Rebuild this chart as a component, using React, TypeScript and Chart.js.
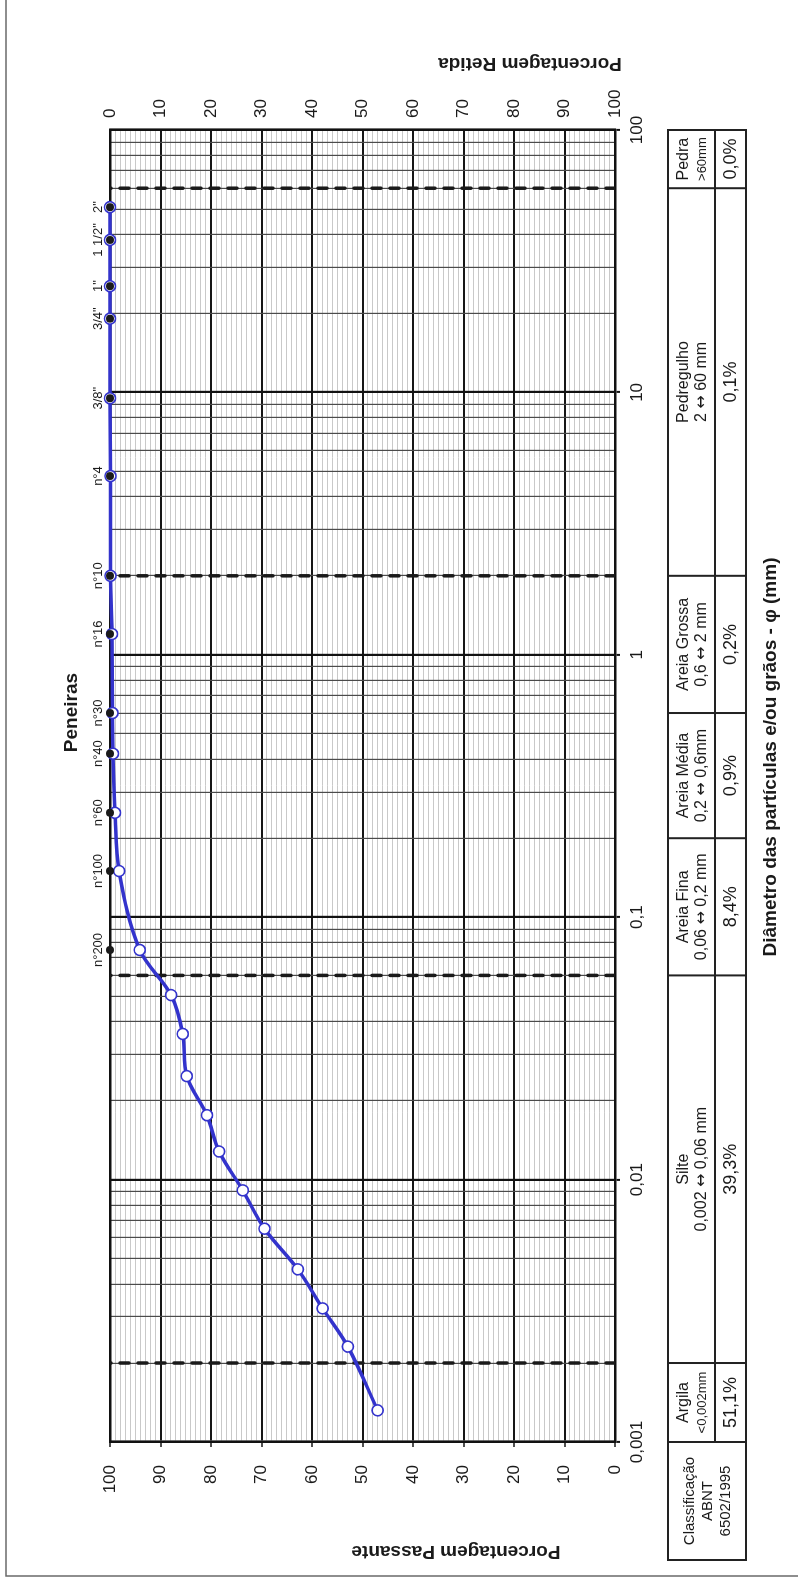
import React, { useEffect, useRef } from 'react';
import { Chart, registerables } from 'chart.js';

Chart.register(...registerables);

// ---------- data ----------
const SIEVE_NAMES = ['2"', '1 1/2"', '1"', '3/4"', '3/8"', 'n°4', 'n°10', 'n°16', 'n°30', 'n°40', 'n°60', 'n°100', 'n°200'];
const SIEVE_MM = [50.8, 38.1, 25.4, 19.1, 9.5, 4.8, 2.0, 1.2, 0.6, 0.42, 0.25, 0.15, 0.075];
const SIEVE_PASSING = [100, 100, 100, 100, 100, 99.9, 99.9, 99.6, 99.5, 99.4, 99.0, 98.2, 94.1];
const SIEVE_MARKER_PCT = 100;

const SED_MM = [0.0505, 0.0359, 0.0248, 0.0176, 0.0128, 0.0091, 0.0065, 0.00455, 0.00323, 0.00231, 0.00132];
const SED_PASSING = [87.9, 85.6, 84.8, 80.8, 78.4, 73.7, 69.4, 62.8, 57.9, 52.9, 47.0];

const CLASS_LIMITS = [0.001, 0.002, 0.06, 0.2, 0.6, 2, 60, 100];
const CLASS_NAMES = ['Argila', 'Silte', 'Areia Fina', 'Areia Média', 'Areia Grossa', 'Pedregulho', 'Pedra'];
const CLASS_RANGES = ['<0,002mm', '0,002 ↔ 0,06 mm', '0,06 ↔ 0,2 mm', '0,2 ↔ 0,6mm', '0,6 ↔ 2 mm', '2 ↔ 60 mm', '>60mm'];
const CLASS_PERCENT = ['51,1%', '39,3%', '8,4%', '0,9%', '0,2%', '0,1%', '0,0%'];
const CLASS_BOUNDARIES = [0.002, 0.06, 2, 60];

const DIAM_TICKS = [0.001, 0.01, 0.1, 1, 10, 100];
const DIAM_LABELS = ['0,001', '0,01', '0,1', '1', '10', '100'];
const PCT_TICKS = [0, 10, 20, 30, 40, 50, 60, 70, 80, 90, 100];

const TITLE_PASSANTE = 'Porcentagem Passante';
const TITLE_RETIDA = 'Porcentagem Retida';
const TITLE_SIEVES = 'Peneiras';
const TITLE_DIAM = 'Diâmetro das partículas e/ou grãos - φ (mm)';
const CLASS_HEADER = ['Classificação', 'ABNT', '6502/1995'];

// ---------- layout ----------
const W = 1582;
const H = 798;
const FONT = "'Liberation Sans', Arial, Helvetica, sans-serif";
const ARROW_FONT = "'DejaVu Sans', sans-serif";
const INK = '#1a1a1a';
const BLUE = 'rgb(51,51,204)';

const isDecade = (v: number) => DIAM_TICKS.some((d) => Math.abs(d - v) / d < 1e-6);
const isPctMajor = (v: number) => PCT_TICKS.some((p) => Math.abs(p - v) < 1e-6);

function text(ctx: CanvasRenderingContext2D, s: string, x: number, y: number, font: string,
  align: CanvasTextAlign = 'center', baseline: CanvasTextBaseline = 'middle', rot = 0) {
  ctx.save();
  ctx.translate(x, y);
  if (rot) ctx.rotate(rot);
  ctx.font = font;
  ctx.textAlign = align;
  ctx.textBaseline = baseline;
  ctx.fillStyle = INK;
  ctx.fillText(s, 0, 0);
  ctx.restore();
}

// centred text where the ↔ glyph comes from a font with a wide arrow
function textWithArrow(ctx: CanvasRenderingContext2D, s: string, cx: number, cy: number, size: number) {
  const parts = s.split('↔');
  const base = `${size}px ${FONT}`;
  const arrowFont = `${size}px ${ARROW_FONT}`;
  ctx.save();
  ctx.textBaseline = 'middle';
  ctx.textAlign = 'left';
  ctx.fillStyle = INK;
  ctx.font = arrowFont;
  const aw = ctx.measureText('↔').width;
  ctx.font = base;
  const widths = parts.map((p) => ctx.measureText(p).width);
  const total = widths.reduce((t, w) => t + w, 0) + aw * (parts.length - 1);
  let x = cx - total / 2;
  parts.forEach((p, i) => {
    ctx.font = base;
    ctx.fillText(p, x, cy);
    x += widths[i];
    if (i < parts.length - 1) {
      ctx.font = arrowFont;
      ctx.fillText('↔', x, cy);
      x += aw;
    }
  });
  ctx.restore();
}

const decorPlugin = {
  id: 'decor',
  afterDraw(chart: any) {
    const { ctx, chartArea: a, scales } = chart;
    const xs = scales.x;
    ctx.save();
    // page frame
    ctx.strokeStyle = '#6a6a6a';
    ctx.lineWidth = 1.5;
    ctx.strokeRect(6, 6, W + 40, H + 40);

    // titles
    text(ctx, TITLE_SIEVES, a.left + 0.556 * (a.right - a.left), 77, `bold 19px ${FONT}`, 'center', 'alphabetic');
    text(ctx, TITLE_PASSANTE, 36, 456, `bold 19px ${FONT}`, 'center', 'alphabetic', -Math.PI / 2);
    text(ctx, TITLE_RETIDA, a.right + 72, 530, `bold 19px ${FONT}`, 'center', 'alphabetic', -Math.PI / 2);
    text(ctx, TITLE_DIAM, 825, a.bottom + 161, `bold 19px ${FONT}`, 'center', 'alphabetic');

    // classification table
    const top = a.bottom + 53;
    const mid = a.bottom + 100;
    const bot = a.bottom + 131;
    const px = CLASS_LIMITS.map((v) => xs.getPixelForValue(v));
    const left = a.left - 118;
    ctx.strokeStyle = '#222';
    ctx.lineWidth = 2;
    ctx.strokeRect(left, top, px[px.length - 1] - left, bot - top);
    ctx.beginPath();
    ctx.moveTo(px[0], mid);
    ctx.lineTo(px[px.length - 1], mid);
    px.slice(0, -1).forEach((p) => {
      ctx.moveTo(p, top);
      ctx.lineTo(p, bot);
    });
    ctx.stroke();

    const hx = (left + px[0]) / 2;
    text(ctx, CLASS_HEADER[0], hx, top + 22, `15px ${FONT}`);
    text(ctx, CLASS_HEADER[1], hx, top + 40, `15px ${FONT}`);
    text(ctx, CLASS_HEADER[2], hx, top + 58, `15px ${FONT}`);

    CLASS_NAMES.forEach((name, i) => {
      const cx = (px[i] + px[i + 1]) / 2;
      const small = i === 0 || i === CLASS_NAMES.length - 1;
      text(ctx, name, cx, top + 16, `16px ${FONT}`);
      if (small) text(ctx, CLASS_RANGES[i], cx, top + 34, `13px ${FONT}`);
      else textWithArrow(ctx, CLASS_RANGES[i], cx, top + 34, 16);
      text(ctx, CLASS_PERCENT[i], cx, mid + 16, `18px ${FONT}`);
    });
    ctx.restore();
  },
};

export default function App() {
  const ref = useRef<HTMLCanvasElement | null>(null);

  useEffect(() => {
    if (!ref.current) return;
    Chart.defaults.font.family = FONT;
    Chart.defaults.color = INK;

    const curve = [
      ...SIEVE_MM.map((x, i) => ({ x, y: SIEVE_PASSING[i] })),
      ...SED_MM.map((x, i) => ({ x, y: SED_PASSING[i] })),
    ];
    const markers = SIEVE_MM.map((x) => ({ x, y: SIEVE_MARKER_PCT }));
    const dashed = CLASS_BOUNDARIES.map((b) => ({
      data: [{ x: b, y: 0 }, { x: b, y: 100 }],
      showLine: true,
      borderColor: INK,
      borderWidth: 3.5,
      borderDash: [9, 9],
      borderCapStyle: 'round',
      pointRadius: 0,
      order: 3,
    }));

    const chart = new Chart(ref.current, {
      type: 'scatter',
      data: {
        datasets: [
          {
            data: markers,
            showLine: false,
            pointRadius: 4,
            pointBackgroundColor: INK,
            pointBorderWidth: 0,
            clip: false,
            order: 0,
          } as any,
          {
            data: curve,
            showLine: true,
            borderColor: BLUE,
            borderWidth: 3.5,
            tension: 0.35,
            pointRadius: 5.5,
            pointBorderWidth: 1.6,
            pointBorderColor: BLUE,
            pointBackgroundColor: '#ffffff',
            clip: false,
            order: 1,
          } as any,
          ...(dashed as any[]),
        ],
      },
      options: {
        animation: false,
        responsive: false,
        devicePixelRatio: 1,
        events: [],
        layout: { padding: 0 },
        plugins: { legend: { display: false }, tooltip: { enabled: false }, title: { display: false } },
        scales: {
          y: {
            type: 'linear',
            position: 'left',
            min: 0,
            max: 100,
            afterBuildTicks: (s: any) => {
              s.ticks = Array.from({ length: 101 }, (_, i) => ({ value: i }));
            },
            afterFit: (s: any) => { s.width = 140; },
            ticks: {
              autoSkip: false,
              padding: 18,
              font: { size: 17 },
              callback: (v: any) => (isPctMajor(Number(v)) ? String(v) : ''),
            },
            grid: {
              color: (c: any) => (isPctMajor(c.tick?.value) ? '#161616' : '#c9c9c9'),
              lineWidth: (c: any) => (isPctMajor(c.tick?.value) ? 2 : 1),
              tickColor: (c: any) => (isPctMajor(c.tick?.value) ? '#161616' : 'rgba(0,0,0,0)'),
              tickWidth: 1.5,
              tickLength: 5,
            },
            border: { display: true, color: '#111', width: 2.5 },
          },
          x: {
            type: 'logarithmic',
            position: 'bottom',
            min: 0.001,
            max: 100,
            afterBuildTicks: (s: any) => {
              const t: any[] = [];
              DIAM_TICKS.forEach((d, i) => {
                if (i < DIAM_TICKS.length - 1) {
                  for (let k = 1; k < 10; k++) t.push({ value: d * k });
                } else t.push({ value: d });
              });
              s.ticks = t;
            },
            afterFit: (s: any) => { s.height = H - 615; },
            ticks: {
              autoSkip: false,
              maxRotation: 0,
              minRotation: 0,
              padding: 7,
              font: { size: 17 },
              callback: (v: any) => {
                const i = DIAM_TICKS.findIndex((d) => Math.abs(d - Number(v)) / d < 1e-6);
                return i >= 0 ? DIAM_LABELS[i] : '';
              },
            },
            grid: {
              color: (c: any) => (isDecade(c.tick?.value) ? '#111' : '#4a4a4a'),
              lineWidth: (c: any) => (isDecade(c.tick?.value) ? 2.2 : 1.2),
              tickColor: (c: any) => (isDecade(c.tick?.value) ? '#111' : 'rgba(0,0,0,0)'),
              tickWidth: 2,
              tickLength: 5,
            },
            border: { display: true, color: '#111', width: 2.5 },
          },
          y2: {
            type: 'linear',
            position: 'right',
            min: 0,
            max: 100,
            reverse: true,
            afterBuildTicks: (s: any) => {
              s.ticks = PCT_TICKS.map((v) => ({ value: v }));
            },
            afterFit: (s: any) => { s.width = W - 1452; },
            ticks: { autoSkip: false, padding: 12, font: { size: 17 } },
            grid: { display: false, drawTicks: false, drawOnChartArea: false },
            border: { display: true, color: '#111', width: 2.5 },
          },
          x2: {
            type: 'logarithmic',
            position: 'top',
            min: 0.001,
            max: 100,
            afterBuildTicks: (s: any) => {
              s.ticks = SIEVE_MM.map((v) => ({ value: v }));
            },
            afterFit: (s: any) => { s.height = 110; },
            ticks: {
              autoSkip: false,
              maxRotation: 0,
              minRotation: 0,
              padding: 4,
              font: { size: 13 },
              callback: (_v: any, i: number) => SIEVE_NAMES[i],
            },
            grid: { display: false, drawTicks: false, drawOnChartArea: false },
            border: { display: true, color: '#111', width: 2.5 },
          },
        },
      } as any,
      plugins: [decorPlugin],
    });
    return () => chart.destroy();
  }, []);

  return (
    <div style={{ position: 'absolute', left: 0, top: 0, width: 798, height: 1582, overflow: 'hidden', background: '#fff' }}>
      <div
        style={{
          position: 'absolute',
          left: 0,
          top: 0,
          width: W,
          height: H,
          transformOrigin: '0 0',
          transform: `translateY(${W}px) rotate(-90deg)`,
        }}
      >
        <canvas ref={ref} width={W} height={H} style={{ display: 'block', width: W, height: H }} />
      </div>
    </div>
  );
}
